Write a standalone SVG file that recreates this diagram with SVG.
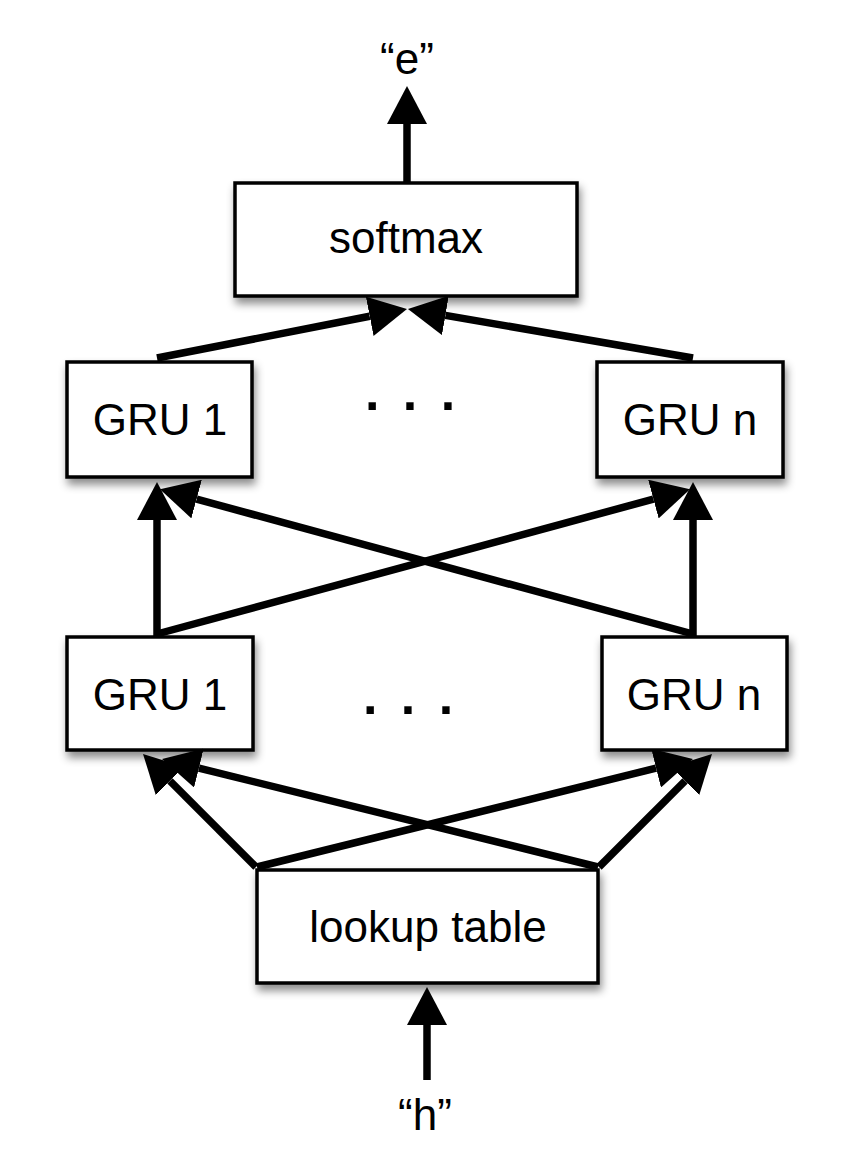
<svg xmlns="http://www.w3.org/2000/svg" width="862" height="1152" viewBox="0 0 862 1152">
<defs>
<style>
.box{fill:#fff;stroke:#000;stroke-width:3.5;filter:url(#sh)}
.lbl{font-family:"Liberation Sans",Arial,sans-serif;font-size:44px;fill:#000;text-anchor:middle}
.dots{font-family:"Liberation Sans",Arial,sans-serif;font-size:52px;font-weight:bold;fill:#000;text-anchor:middle;word-spacing:9px}
.c{stroke:#000;stroke-width:7.5;fill:none;marker-end:url(#ah)}
</style>
<filter id="sh" x="-20%" y="-20%" width="140%" height="150%">
<feDropShadow dx="2" dy="6" stdDeviation="4" flood-color="#000" flood-opacity="0.45"/>
</filter>
<marker id="ah" viewBox="0 0 38 40" refX="0" refY="20" markerWidth="38" markerHeight="40" markerUnits="userSpaceOnUse" orient="auto">
<path d="M0,0 L38,20 L0,40 z" fill="#000"/>
</marker>
</defs>
<rect width="862" height="1152" fill="#fff"/>

<g id="softmax"><rect class="box" x="235" y="183" width="342" height="113"/><text class="lbl" x="406" y="253">softmax</text></g>
<g id="gru1-top"><rect class="box" x="67" y="362" width="185" height="115"/><text class="lbl" x="160" y="435">GRU 1</text></g>
<g id="grun-top"><rect class="box" x="597" y="362" width="186" height="115"/><text class="lbl" x="690" y="435">GRU n</text></g>
<g id="gru1-bot"><rect class="box" x="67" y="637" width="186" height="113"/><text class="lbl" x="160" y="710">GRU 1</text></g>
<g id="grun-bot"><rect class="box" x="602" y="637" width="185" height="113"/><text class="lbl" x="694" y="710">GRU n</text></g>
<g id="lookup"><rect class="box" x="257" y="870" width="341" height="113"/><text class="lbl" x="428" y="942">lookup table</text></g>
<g id="dots-top"><text class="dots" x="410" y="410">. . .</text></g>
<g id="dots-bot"><text class="dots" x="408" y="714">. . .</text></g>
<g id="label-e"><text class="lbl" x="407" y="74">“e”</text></g>
<g id="label-h"><text class="lbl" x="425" y="1130">“h”</text></g>

<g id="connectors">
<path class="c" d="M407,182 L407,124"/>
<path class="c" d="M157,358 L369.7,316.3"/>
<path class="c" d="M693,358 L445.4,315.4"/>
<path class="c" d="M157,636 L157,520"/>
<path class="c" d="M693,636 L693,520"/>
<path class="c" d="M693,634 L196.6,499.1"/>
<path class="c" d="M157,634 L653.4,499.1"/>
<path class="c" d="M256,867 L169.9,780.9"/>
<path class="c" d="M599,867 L685.1,780.9"/>
<path class="c" d="M598,867 L198.9,768.1"/>
<path class="c" d="M257,867 L656.1,768.1"/>
<path class="c" d="M427,1080 L427,1025"/>
</g>
</svg>
